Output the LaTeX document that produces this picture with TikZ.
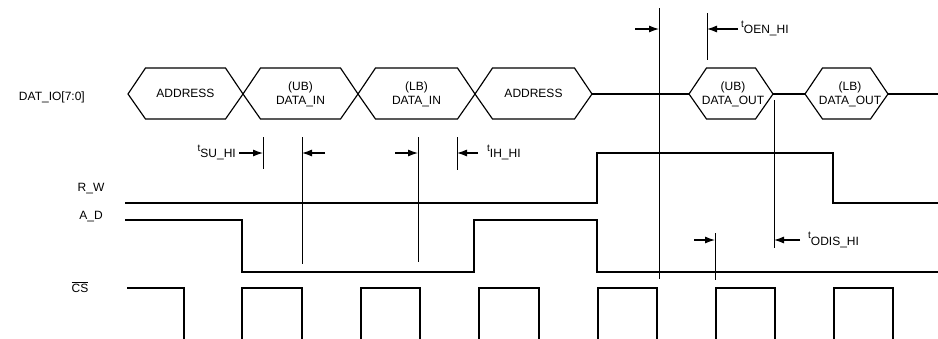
\documentclass[tikz,border=0pt]{standalone}
\usepackage{fontspec}
\setmainfont{Liberation Sans}
\usetikzlibrary{arrows.meta}
\newcommand\hexa[2]{(#1,94) -- (#1+17.5,68) -- (#2-17.5,68) -- (#2,94) -- (#2-17.5,119) -- (#1+17.5,119) -- cycle}
\newcommand\tname[1]{\raisebox{6.5pt}{\fontsize{10}{12}\selectfont t}#1}
\begin{document}
\begin{tikzpicture}[x=1pt,y=-1pt,
  sig/.style={line width=1.15pt, line join=miter},
  tick/.style={line width=0.9pt},
  dimarrow/.style={-{Latex[length=10pt,width=7pt]}, line width=1.1pt},
  lbl/.style={font=\fontsize{12}{14}\selectfont, inner sep=0pt},
  ]
\useasboundingbox (0,0) rectangle (938,338);

% signal names
\node[lbl, anchor=east] (datio) at (85,97) {DAT\_IO[7:0]};
\node[lbl] (rw) at (91,189) {R\_W};
\node[lbl] (ad) at (91,217) {A\_D};
\node[lbl] (cs) at (80,287) {$\overline{\mbox{CS}}$};

% DAT_IO bus
\draw[sig] \hexa{128}{243};
\draw[sig] \hexa{243}{358};
\draw[sig] \hexa{358}{475};
\draw[sig] \hexa{475}{592};
\draw[sig] \hexa{689}{773};
\draw[sig] \hexa{805}{888};
\draw[sig] (592,94) -- (689,94);
\draw[sig] (773,94) -- (805,94);
\draw[sig] (888,94) -- (938,94);

\node[lbl] (a1) at (185.5,93) {ADDRESS};
\node[lbl, align=center] (d1) at (300.5,94) {(UB)\\DATA\_IN};
\node[lbl, align=center] (d2) at (416.5,94) {(LB)\\DATA\_IN};
\node[lbl] (a2) at (533.5,93) {ADDRESS};
\node[lbl, align=center] (o1) at (733,94) {(UB)\\DATA\_OUT};
\node[lbl, align=center] (o2) at (850,94) {(LB)\\DATA\_OUT};

% R_W
\draw[sig] (125,203) -- (597,203) -- (597,153) -- (833,153) -- (833,203) -- (938,203);
% A_D
\draw[sig] (125,220) -- (242,220) -- (242,272) -- (474,272) -- (474,220) -- (597,220) -- (597,272) -- (938,272);
% CS
\draw[sig] (127,288) -- (184,288) -- (184,340);
\foreach \a/\b in {242/302, 361/420, 479/539, 598/657, 716/775, 834/893}
  \draw[sig] (\a,340) -- (\a,288) -- (\b,288) -- (\b,340);

% timing marker lines
\coordinate (su) at (263,153);
\coordinate (sub) at (302,153);
\coordinate (ih) at (418,153);
\coordinate (ihb) at (457,153);
\draw[tick] (263,137) -- (263,169);
\draw[tick] (302,137) -- (302,264);
\draw[tick] (418,137) -- (418,262);
\draw[tick] (457,137) -- (457,170);
\node[lbl, anchor=base east] (tsu) at (236,157.5) {\tname{SU\_HI}};
\node[lbl, anchor=base west] (tih) at (487,157.5) {\tname{IH\_HI}};
\coordinate (suT) at (239,153);
\coordinate (subT) at (325,153);
\coordinate (ihT) at (395,153);
\coordinate (ihbT) at (478,153);
\draw[dimarrow] (suT) -- (su);
\draw[dimarrow] (subT) -- (sub);
\draw[dimarrow] (ihT) -- (ih);
\draw[dimarrow] (ihbT) -- (ihb);

% output enable / disable
\draw[tick] (659,8) -- (659,279);
\draw[tick] (707,13) -- (707,60);
\draw[tick] (774,100) -- (774,248);
\draw[tick] (715,233) -- (715,280);
\coordinate (oa) at (659,29);
\coordinate (oaT) at (635,29);
\coordinate (ob) at (707,29);
\coordinate (obT) at (738,29);
\coordinate (da) at (715,240);
\coordinate (daT) at (694,240);
\coordinate (db) at (774,240);
\coordinate (dbT) at (800,240);
\draw[dimarrow] (oaT) -- (oa);
\draw[dimarrow] (obT) -- (ob);
\draw[dimarrow] (daT) -- (da);
\draw[dimarrow] (dbT) -- (db);
\node[lbl, anchor=base west] (toen) at (741,33.5) {\tname{OEN\_HI}};
\node[lbl, anchor=base west] (todis) at (808,245) {\tname{ODIS\_HI}};
\end{tikzpicture}
\end{document}
